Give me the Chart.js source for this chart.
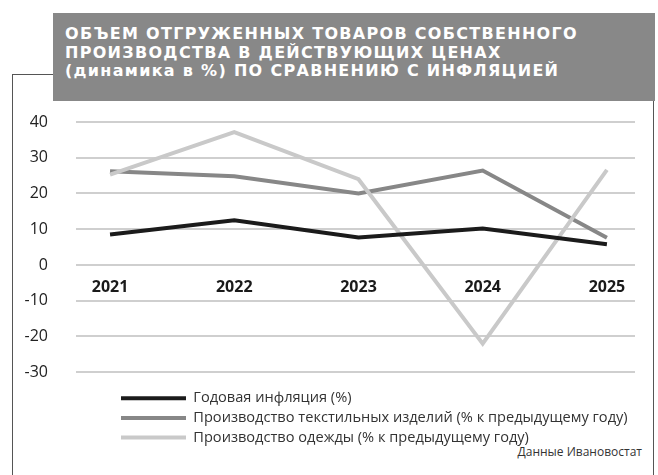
<!DOCTYPE html>
<html>
<head>
<meta charset="utf-8">
<script src="https://cdn.jsdelivr.net/npm/chart.js@4.4.1/dist/chart.umd.min.js"></script>
<style>
  body { margin: 0; background: #fff; }
  #wrap { position: relative; width: 658px; height: 475px; overflow: hidden; font-family: 'Open Sans', sans-serif; }
  #frame { position: absolute; left: 12px; top: 74px; width: 640px; height: 430px; border: 1px solid #555; }
  #title { position: absolute; left: 53px; top: 13px; width: 602px; height: 88px; box-sizing: border-box;
           padding: 12px 0 0 12px; background: #888; color: #fff; font-family: 'DejaVu Sans', sans-serif;
           font-weight: 700; font-size: 16px; letter-spacing: 1.3px; line-height: 18.5px; white-space: nowrap; }
  #src { position: absolute; right: 16px; top: 443px; font-size: 12px; line-height: 17px; color: #333; }
  canvas { position: absolute; left: 0; top: 0; }
</style>
</head>
<body>
<div id="wrap">
  <div id="frame"></div>
  <div id="title">ОБЪЕМ ОТГРУЖЕННЫХ ТОВАРОВ СОБСТВЕННОГО<br>ПРОИЗВОДСТВА В ДЕЙСТВУЮЩИХ ЦЕНАХ<br>(динамика в %) ПО СРАВНЕНИЮ С ИНФЛЯЦИЕЙ</div>
  <div id="src">Данные Ивановостат</div>
  <canvas id="line-chart" width="658" height="475"></canvas>
</div>
<script>
var years = [2021, 2022, 2023, 2024, 2025];
var inflation = [8.5, 12.5, 7.7, 10.2, 5.8];
var textiles = [26.2, 24.8, 20.0, 26.4, 7.6];
var clothing = [25.3, 37.2, 24.0, -22.0, 26.6];
var seriesNames = ['Годовая инфляция (%)', 'Производство текстильных изделий (% к предыдущему году)', 'Производство одежды (% к предыдущему году)'];
var yTicks = [-30, -20, -10, 0, 10, 20, 30, 40];

function points(values) {
  return years.map(function(y, i) { return {x: y, y: values[i]}; });
}

// move the legend under the plot, indented like in the original
var legendShift = {
  id: 'legendShift',
  afterLayout: function(chart) {
    var lg = chart.legend;
    var h = lg.bottom - lg.top;
    lg.left = 116;
    lg.right = 652;
    lg.top = 386;
    lg.bottom = 386 + h;
  }
};

Chart.defaults.font.family = "'Open Sans', sans-serif";
Chart.defaults.color = '#222';

new Chart(document.getElementById('line-chart'), {
  type: 'line',
  data: {
    datasets: [{
        label: seriesNames[0],
        data: points(inflation),
        borderColor: '#1b1b1b',
        backgroundColor: '#1b1b1b',
        order: 0
      }, {
        label: seriesNames[1],
        data: points(textiles),
        borderColor: '#878787',
        backgroundColor: '#878787',
        order: 2
      }, {
        label: seriesNames[2],
        data: points(clothing),
        borderColor: '#c9c9c9',
        backgroundColor: '#c9c9c9',
        order: 1
      }]
  },
  options: {
    responsive: false,
    animation: false,
    elements: {
      line: { borderWidth: 4, tension: 0, fill: false },
      point: { radius: 0, hoverRadius: 0 }
    },
    layout: {
      padding: { left: 12, top: 122, right: 23, bottom: 34 }
    },
    scales: {
      x: {
        type: 'linear',
        position: { y: 0 },
        min: 2020.726,
        max: 2025.226,
        afterBuildTicks: function(s) { s.ticks = years.map(function(v) { return {value: v}; }); },
        grid: { display: false },
        border: { display: false },
        ticks: {
          padding: 5,
          font: { size: 16, weight: 'bold' },
          color: '#1a1a1a',
          callback: function(v) { return String(v); }
        }
      },
      y: {
        min: -30,
        max: 40,
        afterFit: function(s) { s.width = 64; },
        afterBuildTicks: function(s) { s.ticks = yTicks.map(function(v) { return {value: v}; }); },
        grid: { color: '#cfcfcf', lineWidth: 2, drawTicks: false },
        border: { display: false },
        ticks: { padding: 28, font: { size: 16 }, color: '#222' }
      }
    },
    plugins: {
      tooltip: { enabled: false },
      legend: {
        position: 'bottom',
        align: 'start',
        labels: {
          boxWidth: 65,
          boxHeight: 4,
          padding: 5,
          color: '#333',
          font: { size: 14.6 },
          sort: function(a, b) { return a.datasetIndex - b.datasetIndex; },
          generateLabels: function(c) {
            return Chart.defaults.plugins.legend.labels.generateLabels(c).map(function(l) {
              l.lineWidth = 0;
              return l;
            });
          }
        }
      }
    }
  },
  plugins: [legendShift]
});
</script>
</body>
</html>
